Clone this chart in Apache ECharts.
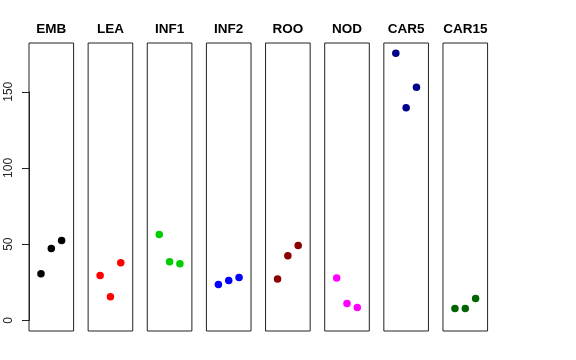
<!DOCTYPE html>
<html><head><meta charset="utf-8">
<script src="https://cdn.jsdelivr.net/npm/echarts@6/dist/echarts.min.js"></script>
<style>html,body{margin:0;padding:0;background:#fff}#c{width:576px;height:360px}</style>
</head><body><div id="c"></div>
<script>
var categories = ['EMB','LEA','INF1','INF2','ROO','NOD','CAR5','CAR15'];
var positions = [1, 2, 3];
var EMB = [30.5, 47.1, 52.4];
var LEA = [29.4, 15.4, 37.8];
var INF1 = [56.3, 38.4, 37.1];
var INF2 = [23.5, 26.1, 28.1];
var ROO = [27.1, 42.4, 49.1];
var NOD = [27.7, 11.0, 8.4];
var CAR5 = [175.2, 139.5, 152.9];
var CAR15 = [7.7, 7.7, 14.3];
var yTickMin = 0, yTickMax = 150, yTickStep = 50;
var colors = ['#000000','#FF0000','#00CD00','#0000FF','#8B0000','#FF00FF','#00008B','#006400'];
var groups = [EMB, LEA, INF1, INF2, ROO, NOD, CAR5, CAR15];

(function(){
var chart = echarts.init(document.getElementById('c'), null, {renderer:'canvas'});
var grids = [], xAxes = [], yAxes = [], series = [], texts = [];
var left0 = 29, step = 59.14, gw = 44.6, gTop = 43, gh = 288;
var yMin = -7, yMax = 182;
var pxPerUnit = gh / (yMax - yMin);
var font = 'Liberation Sans, Arial, Helvetica, sans-serif';
categories.forEach(function(cat, i){
  var L = left0 + i*step;
  grids.push({left: L, top: gTop, width: gw, height: gh, show: true, borderColor: '#222', borderWidth: 1});
  xAxes.push({type:'value', gridIndex:i, min:-0.16, max:4.16, show:false});
  yAxes.push({type:'value', gridIndex:i, min:yMin, max:yMax, show:false});
  series.push({type:'scatter', xAxisIndex:i, yAxisIndex:i, symbolSize:7.5,
    itemStyle:{color:colors[i], opacity:1},
    data: positions.map(function(p, k){ return [p, groups[i][k]]; }),
    silent:true});
  texts.push({type:'text', x: L + gw/2, y: 29, silent:true,
    style:{text:cat, align:'center', verticalAlign:'middle', fill:'#000',
      font:'bold 13.5px ' + font}});
});
var axTop = gTop + (yMax - yTickMax) * pxPerUnit;
var axH = (yTickMax - yTickMin) * pxPerUnit;
grids.push({left: left0, top: axTop, width: gw, height: axH, show:false});
xAxes.push({type:'value', gridIndex:8, min:0, max:1, show:false});
yAxes.push({type:'value', gridIndex:8, min:yTickMin, max:yTickMax, interval:yTickStep,
  splitLine:{show:false},
  axisLine:{show:true, lineStyle:{color:'#222', width:1}},
  axisTick:{show:true, length:7, lineStyle:{color:'#222'}},
  axisLabel:{show:true, rotate:90, margin:14, fontSize:12, color:'#222', fontFamily:font}});
chart.setOption({animation:false, graphic:texts, grid:grids, xAxis:xAxes, yAxis:yAxes, series:series});
})();
</script></body></html>
